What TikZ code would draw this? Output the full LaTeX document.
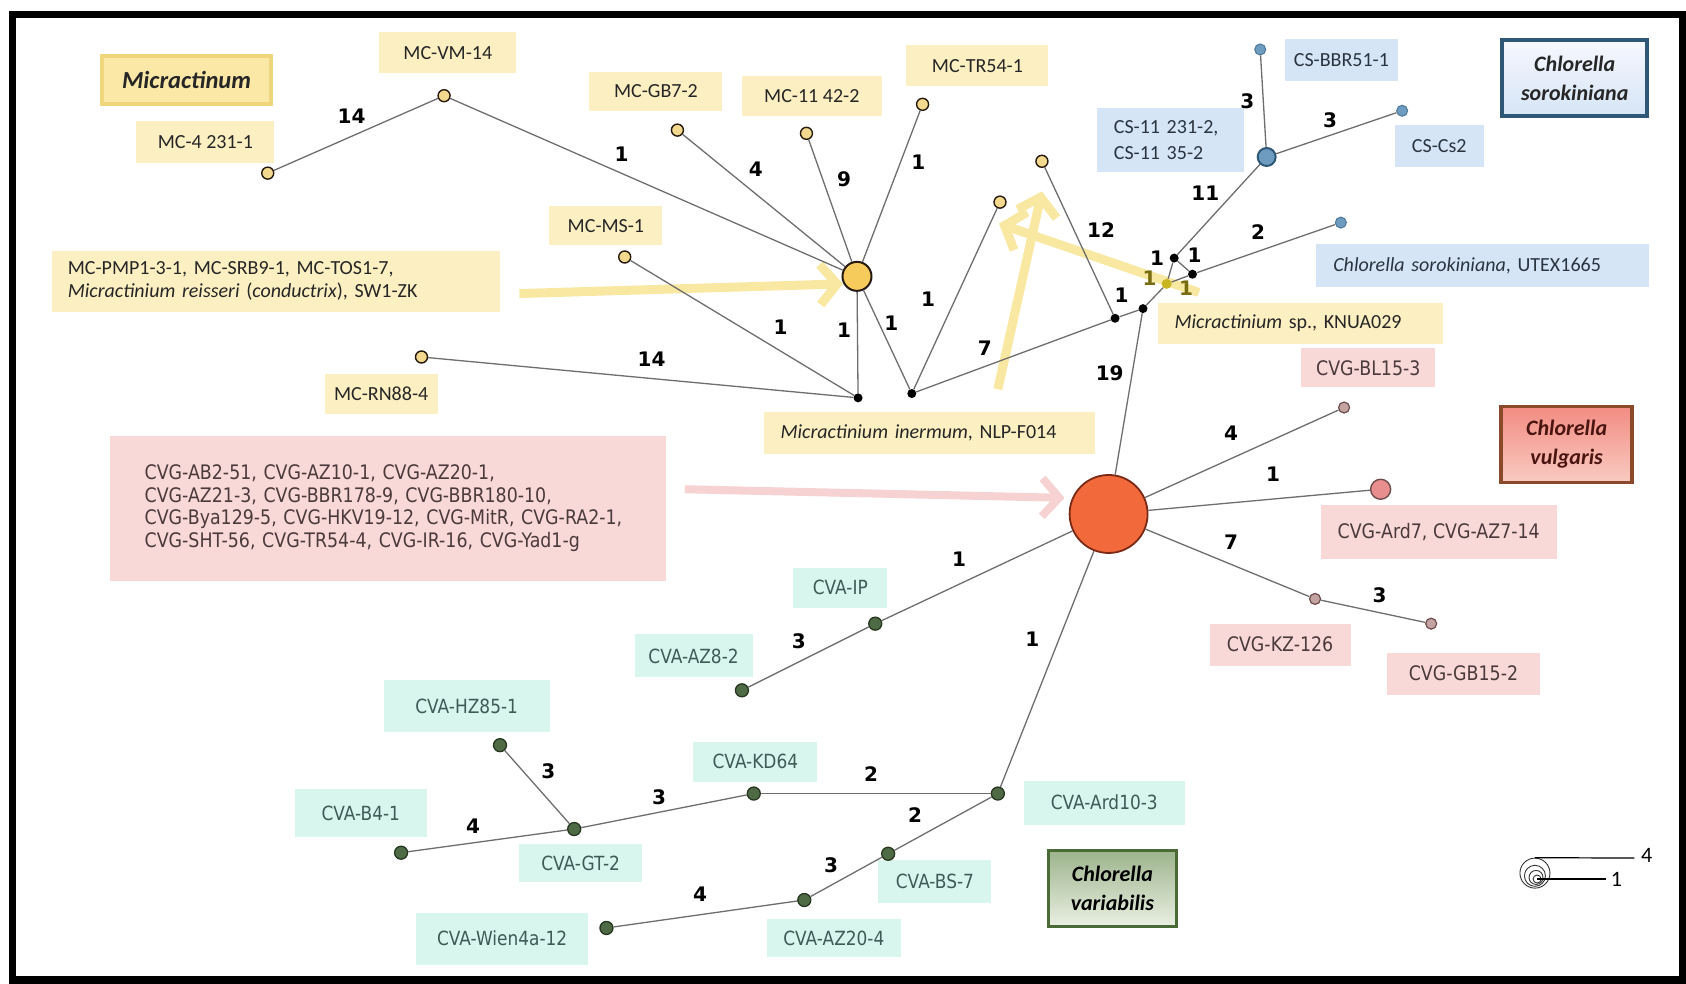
\documentclass[tikz,border=0pt]{standalone}
\usepackage{fontspec}
\setmainfont{Carlito}
\newfontfamily\tahfont{DejaVu Sans}[FakeStretch=0.87]
\newfontfamily\numfont{DejaVu Sans}
\usetikzlibrary{arrows.meta,shadings}
\definecolor{yfill}{HTML}{FCEFC2}
\definecolor{bfill}{HTML}{D5E5F5}
\definecolor{pfill}{HTML}{F9D8D8}
\definecolor{tfill}{HTML}{D8F5EE}
\definecolor{mctext}{HTML}{262626}
\definecolor{cstext}{HTML}{2A3440}
\definecolor{cvgtext}{HTML}{4B3A3A}
\definecolor{cvatext}{HTML}{3E5C56}
\definecolor{edgegray}{HTML}{6E6E6E}
\definecolor{arry}{HTML}{F8E8A2}
\definecolor{arrp}{HTML}{F6D2D2}
\definecolor{olivelab}{HTML}{7A6C10}
\definecolor{micfill}{HTML}{FBE8A6}
\definecolor{micdraw}{HTML}{EFD57C}
\definecolor{vultop}{HTML}{F28C82}
\definecolor{vulbot}{HTML}{F9CBC2}
\definecolor{vuldraw}{HTML}{8A4A2A}
\definecolor{vultext}{HTML}{4A1410}
\definecolor{vartop}{HTML}{9DB48D}
\definecolor{varbot}{HTML}{EAF0E3}
\definecolor{vardraw}{HTML}{4A6A36}
\definecolor{mcyel}{HTML}{F3D98E}
\definecolor{hubyel}{HTML}{F6CB5C}
\definecolor{kyel}{HTML}{C9B520}
\definecolor{csblue}{HTML}{6E9BC0}
\definecolor{csdark}{HTML}{4D7898}
\definecolor{cshubdark}{HTML}{2E5876}
\definecolor{cvgorange}{HTML}{F26A3C}
\definecolor{cvgdark}{HTML}{7A2A14}
\definecolor{pinkgray}{HTML}{C4A3A3}
\definecolor{pinkdark}{HTML}{6E4C4C}
\definecolor{ardpink}{HTML}{E88E8E}
\definecolor{cvagreen}{HTML}{4E6B46}
\definecolor{greendark}{HTML}{26361F}
\tikzset{
  edge/.style={draw=edgegray, line width=1.3pt},
  lab/.style={font=\numfont\bfseries\fontsize{20}{20}\selectfont, text=black, inner sep=0pt},
  ybox/.style={fill=yfill, inner sep=0pt, font=\fontsize{20}{23}\selectfont, text=mctext},
  bbox/.style={fill=bfill, inner sep=0pt, font=\fontsize{20}{26}\selectfont, text=cstext},
  pbox/.style={fill=pfill, inner sep=0pt, font=\tahfont\fontsize{20}{22.6}\selectfont, text=cvgtext},
  tbox/.style={fill=tfill, inner sep=0pt, font=\tahfont\fontsize{19.5}{22}\selectfont, text=cvatext},
  ttl/.style={inner sep=0pt, line width=3.5pt, align=center, font=\bfseries\itshape\fontsize{22}{29}\selectfont},
  mcn/.style={circle, inner sep=0pt, draw=black!80!brown, fill=mcyel, line width=1.4pt, minimum size=12pt},
  mhubs/.style={circle, inner sep=0pt, draw=black!80!brown, fill=hubyel, line width=2pt, minimum size=29pt},
  med/.style={circle, inner sep=0pt, fill=black, minimum size=9pt},
  kys/.style={circle, inner sep=0pt, fill=kyel, minimum size=10pt},
  csn/.style={circle, inner sep=0pt, draw=csdark, fill=csblue, line width=1pt, minimum size=11pt},
  cshubs/.style={circle, inner sep=0pt, draw=cshubdark, fill=csblue, line width=2pt, minimum size=18pt},
  cvgs/.style={circle, inner sep=0pt, draw=cvgdark, fill=cvgorange, line width=1.8pt, minimum size=78pt},
  cvgn/.style={circle, inner sep=0pt, draw=pinkdark, fill=pinkgray, line width=1.2pt, minimum size=11pt},
  ard7s/.style={circle, inner sep=0pt, draw=pinkdark, fill=ardpink, line width=1.4pt, minimum size=20pt},
  cvan/.style={circle, inner sep=0pt, draw=greendark, fill=cvagreen, line width=1.3pt, minimum size=13pt},
  yarr/.style={draw=arry, line width=9pt, -{Straight Barb[length=17pt,width=40pt]}},
  parr/.style={draw=arrp, line width=8pt, -{Straight Barb[length=17pt,width=38pt]}},
  legc/.style={circle, inner sep=0pt, draw=black!80, line width=0.9pt},
  legnum/.style={inner sep=0pt, font=\fontsize{22}{22}\selectfont}
}
\begin{document}
\begin{tikzpicture}[x=1.0753pt,y=-1.0753pt]
\useasboundingbox (0,0) rectangle (1568,915);
\fill[white] (0,0) rectangle (1568,915);
\draw[line width=7.5pt] (11.5,13.5) rectangle (1564.5,911.5);

% ---------- label boxes ----------
\node[ybox, minimum width=137pt, minimum height=41pt] (tvm) at (416.5,49) {MC-VM-14};
\node[ybox, minimum width=138pt, minimum height=42pt] (t4231) at (191,132.5) {MC-4 231-1};
\node[ybox, minimum width=133pt, minimum height=39pt] (tgb) at (610,85) {MC-GB7-2};
\node[ybox, minimum width=140pt, minimum height=40pt] (t11) at (755,89.5) {MC-11 42-2};
\node[ybox, minimum width=142pt, minimum height=41pt] (ttr) at (909,61) {MC-TR54-1};
\node[ybox, minimum width=113pt, minimum height=39pt] (tms) at (563.5,210) {MC-MS-1};
\node[ybox, minimum width=448pt, minimum height=61pt, text width=416pt, align=left] (tpmp) at (256.5,261.5)
  {MC-PMP1-3-1, MC-SRB9-1, MC-TOS1-7,\\\textit{Micractinium reisseri} (\textit{conductrix}), SW1-ZK};
\node[ybox, minimum width=113pt, minimum height=40pt] (trn) at (354.5,366.5) {MC-RN88-4};
\node[ybox, minimum width=331pt, minimum height=42pt, text width=297pt, align=left] (tin) at (864,402.5)
  {\textit{Micractinium inermum}, NLP-F014};
\node[ybox, minimum width=285pt, minimum height=41pt, text width=252pt, align=left] (tkn) at (1209.5,301)
  {\textit{Micractinium} sp., KNUA029};

\node[bbox, minimum width=113pt, minimum height=42pt] (tbbr) at (1247.5,55.5) {CS-BBR51-1};
\node[bbox, minimum width=147pt, minimum height=64pt, text width=113pt, align=left] (tcs11) at (1088.5,130)
  {CS-11 231-2,\\CS-11 35-2};
\node[bbox, minimum width=89pt, minimum height=42pt] (tcs2) at (1338.5,135.5) {CS-Cs2};
\node[bbox, minimum width=333pt, minimum height=43pt, text width=299pt, align=left] (tutex) at (1379,247)
  {\textit{Chlorella sorokiniana}, UTEX1665};

\node[pbox, minimum width=556pt, minimum height=145pt, text width=486pt, align=left] (tcvg) at (360.5,472.5)
  {CVG-AB2-51, CVG-AZ10-1, CVG-AZ20-1,\\CVG-AZ21-3, CVG-BBR178-9, CVG-BBR180-10,\\CVG-Bya129-5, CVG-HKV19-12, CVG-MitR, CVG-RA2-1,\\CVG-SHT-56, CVG-TR54-4, CVG-IR-16, CVG-Yad1-g};
\node[pbox, minimum width=134pt, minimum height=39pt] (tbl) at (1272.5,342) {CVG-BL15-3};
\node[pbox, minimum width=236pt, minimum height=54pt] (tard7) at (1338,495) {CVG-Ard7, CVG-AZ7-14};
\node[pbox, minimum width=141pt, minimum height=42pt] (tkz) at (1190.5,599.5) {CVG-KZ-126};
\node[pbox, minimum width=153pt, minimum height=42pt] (tgb15) at (1361,626.5) {CVG-GB15-2};

\node[tbox, minimum width=94pt, minimum height=40pt] (tip) at (781.5,546.5) {CVA-IP};
\node[tbox, minimum width=118pt, minimum height=43pt] (taz8) at (645,610) {CVA-AZ8-2};
\node[tbox, minimum width=166pt, minimum height=52pt] (thz) at (434,657) {CVA-HZ85-1};
\node[tbox, minimum width=124pt, minimum height=40pt] (tkd) at (702.5,708.5) {CVA-KD64};
\node[tbox, minimum width=132pt, minimum height=48pt] (tb4) at (335.5,756.5) {CVA-B4-1};
\node[tbox, minimum width=123pt, minimum height=38pt] (tgt) at (540,802.5) {CVA-GT-2};
\node[tbox, minimum width=161pt, minimum height=44pt] (tard10) at (1027,746.5) {CVA-Ard10-3};
\node[tbox, minimum width=113pt, minimum height=43pt] (tbs) at (869.5,820) {CVA-BS-7};
\node[tbox, minimum width=172pt, minimum height=52pt] (twien) at (467,873) {CVA-Wien4a-12};
\node[tbox, minimum width=134pt, minimum height=38pt] (taz20) at (775.5,872.5) {CVA-AZ20-4};

% ---------- title boxes ----------
\node[ttl, fill=micfill, draw=micdraw, minimum width=169pt, minimum height=48pt,
      font=\bfseries\itshape\fontsize{24.5}{28}\selectfont, text=black!85] (tmic) at (173.5,74.5) {Micractinum};
\node[ttl, top color=blue!3, bottom color=bfill, draw=cshubdark, minimum width=145pt, minimum height=76pt, text=black!85] (tsor) at (1464.5,72.5) {Chlorella\\sorokiniana};
\node[ttl, top color=vultop, bottom color=vulbot, draw=vuldraw, minimum width=131pt, minimum height=76pt, text=vultext] (tvul) at (1457,413.5) {Chlorella\\vulgaris};
\node[ttl, top color=vartop, bottom color=varbot, draw=vardraw, minimum width=128pt, minimum height=76pt, text=black] (tvar) at (1034.5,826.5) {Chlorella\\variabilis};

% ---------- arrows (behind network) ----------
\coordinate (a1s) at (483,273); \coordinate (a1e) at (784,264);
\coordinate (a2s) at (928,362); \coordinate (a2e) at (969,178);
\coordinate (a3s) at (1115,272); \coordinate (a3e) at (929,208);
\coordinate (a4s) at (637,455); \coordinate (a4e) at (990,463);
\draw[yarr] (a1s) -- (a1e);
\draw[yarr] (a2s) -- (a2e);
\draw[yarr] (a3s) -- (a3e);
\draw[parr] (a4s) -- (a4e);

% ---------- network nodes ----------
\node[mcn] (mc4) at (249,161) {};
\node[mcn] (mcvm) at (413,89) {};
\node[mcn] (mcgb) at (630,121) {};
\node[mcn] (mc11) at (750,124) {};
\node[mcn] (mctr) at (858,97) {};
\node[mcn] (mcms) at (581,239) {};
\node[mcn] (mcrn) at (392,332) {};
\node[mcn] (m2) at (930,188) {};
\node[mcn] (m3) at (969,150) {};
\node[mhubs] (mhub) at (797,257) {};
\node[med] (b1) at (798,370) {};
\node[med] (b2) at (848,366) {};
\node[med] (b3) at (1037,296) {};
\node[med] (b4) at (1063,287) {};
\node[med] (b5) at (1092,240) {};
\node[med] (b6) at (1109,255) {};
\node[kys] (ky) at (1085,264) {};
\node[cshubs] (cshub) at (1178,146) {};
\node[csn] (csbbr) at (1172,46) {};
\node[csn] (cscs2) at (1304,103) {};
\node[csn] (csutex) at (1247,207) {};
\node[cvgs] (cvg) at (1031,478) {};
\node[cvgn] (bl15) at (1250,379) {};
\node[ard7s] (ard7) at (1284,455) {};
\node[cvgn] (kz126) at (1223,557) {};
\node[cvgn] (gb15) at (1331,580) {};
\node[cvan] (ip) at (814,580) {};
\node[cvan] (az82) at (690,642) {};
\node[cvan] (ard10) at (928,738) {};
\node[cvan] (kd64) at (701,738) {};
\node[cvan] (gt2) at (534,771) {};
\node[cvan] (hz85) at (465,693) {};
\node[cvan] (b41) at (373,793) {};
\node[cvan] (bs7) at (826,794) {};
\node[cvan] (az204) at (748,837) {};
\node[cvan] (wien) at (564,863) {};

% ---------- edges ----------
\draw[edge] (mc4) -- (mcvm);
\draw[edge] (mcvm) -- (mhub);
\draw[edge] (mcgb) -- (mhub);
\draw[edge] (mc11) -- (mhub);
\draw[edge] (mctr) -- (mhub);
\draw[edge] (mcms) -- (b1);
\draw[edge] (mcrn) -- (b1);
\draw[edge] (mhub) -- (b1);
\draw[edge] (mhub) -- (b2);
\draw[edge] (m2) -- (b2);
\draw[edge] (b2) -- (b3);
\draw[edge] (m3) -- (b3);
\draw[edge] (b3) -- (b4);
\draw[edge] (b4) -- (ky);
\draw[edge] (ky) -- (b5);
\draw[edge] (b5) -- (b6);
\draw[edge] (ky) -- (b6);
\draw[edge] (b5) -- (cshub);
\draw[edge] (cshub) -- (csbbr);
\draw[edge] (cshub) -- (cscs2);
\draw[edge] (b6) -- (csutex);
\draw[edge] (b4) -- (cvg);
\draw[edge] (cvg) -- (bl15);
\draw[edge] (cvg) -- (ard7);
\draw[edge] (cvg) -- (kz126);
\draw[edge] (kz126) -- (gb15);
\draw[edge] (cvg) -- (ip);
\draw[edge] (ip) -- (az82);
\draw[edge] (cvg) -- (ard10);
\draw[edge] (ard10) -- (kd64);
\draw[edge] (kd64) -- (gt2);
\draw[edge] (gt2) -- (hz85);
\draw[edge] (gt2) -- (b41);
\draw[edge] (ard10) -- (bs7);
\draw[edge] (bs7) -- (az204);
\draw[edge] (az204) -- (wien);

% ---------- edge labels ----------
\node[lab] (l1) at (327,108) {14};
\node[lab] (l2) at (578,143) {1};
\node[lab] (l3) at (703,157) {4};
\node[lab] (l4) at (785,167) {9};
\node[lab] (l5) at (854,151) {1};
\node[lab] (l6) at (726,304) {1};
\node[lab] (l7) at (606,334) {14};
\node[lab] (l8) at (785,307) {1};
\node[lab] (l9) at (829,301) {1};
\node[lab] (l10) at (863,278) {1};
\node[lab] (l11) at (916,324) {7};
\node[lab] (l12) at (1024,214) {12};
\node[lab] (l13) at (1043,275) {1};
\node[lab, text=olivelab] (l14) at (1069,259) {1};
\node[lab] (l15) at (1076,240) {1};
\node[lab] (l16) at (1111,237) {1};
\node[lab, text=olivelab] (l17) at (1103,268) {1};
\node[lab] (l18) at (1121,180) {11};
\node[lab] (l19) at (1160,94) {3};
\node[lab] (l20) at (1237,112) {3};
\node[lab] (l21) at (1170,216) {2};
\node[lab] (l22) at (1032,347) {19};
\node[lab] (l23) at (1145,403) {4};
\node[lab] (l24) at (1184,441) {1};
\node[lab] (l25) at (1145,504) {7};
\node[lab] (l26) at (1283,554) {3};
\node[lab] (l27) at (892,520) {1};
\node[lab] (l28) at (743,596) {3};
\node[lab] (l29) at (960,594) {1};
\node[lab] (l30) at (810,720) {2};
\node[lab] (l31) at (613,741) {3};
\node[lab] (l32) at (510,717) {3};
\node[lab] (l33) at (440,768) {4};
\node[lab] (l34) at (851,758) {2};
\node[lab] (l35) at (773,805) {3};
\node[lab] (l36) at (651,832) {4};

% ---------- scale legend ----------
\node[legc, minimum size=30pt] (lg1) at (1427.5,812) {};
\node[legc, minimum size=21pt] (lg2) at (1427.5,814.5) {};
\node[legc, minimum size=14pt] (lg3) at (1428.5,816) {};
\node[legc, minimum size=8pt] (lg4) at (1429.5,817.5) {};
\coordinate (lgt) at (1520,798);
\coordinate (lgb) at (1494,817.5);
\draw[line width=1.2pt] (lg1.north) -- (lgt);
\draw[line width=1.2pt] (lg4.center) -- (lgb);
\node[legnum, anchor=west] (lg4lab) at (1526,796) {4};
\node[legnum, anchor=west] (lg1lab) at (1498,818) {1};
\end{tikzpicture}
\end{document}
